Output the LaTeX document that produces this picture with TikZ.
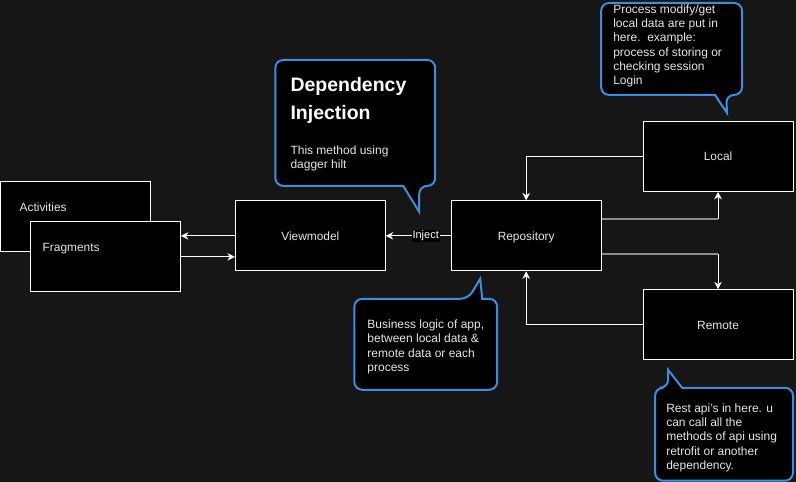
\documentclass[tikz,border=0pt]{standalone}
\usepackage{fontspec}
\setmainfont{Liberation Sans}
\usetikzlibrary{arrows.meta}
\definecolor{bg}{HTML}{161616}
\definecolor{cblue}{HTML}{3A8EE0}
\definecolor{lgray}{HTML}{8C8C8C}
\definecolor{txt}{HTML}{E6E6E6}
\begin{document}
\begin{tikzpicture}[x=1pt,y=-1pt,
  box/.style={draw=white, fill=black, line width=1pt, minimum width=150pt, minimum height=70pt, inner sep=0pt, text=txt, text height=10pt, text depth=1.5pt, font=\fontsize{11.9}{14}\selectfont},
  txtlbl/.style={text=txt, inner sep=0pt, anchor=west, text height=10pt, text depth=1.5pt, font=\fontsize{11.9}{14}\selectfont},
  arr/.style={draw=white, line width=1pt, -{Stealth[length=7.5pt,width=7.5pt]}},
  glines/.style={draw=lgray, line width=1.5pt},
  callout/.style={draw=cblue, fill=black, line width=2pt, rounded corners=8pt},
  ctext/.style={text=txt, inner sep=0pt, anchor=north west, align=left, font=\fontsize{12}{14.3}\selectfont},
  injlbl/.style={fill=black, text=white, inner sep=1pt, text height=8pt, text depth=2.5pt, font=\fontsize{11}{12}\selectfont},
]
\path[fill=bg] (0,0) rectangle (796,482);

% boxes
\node[box] (act) at (75,217) {};
\node[txtlbl] (actl) at (19,207) {Activities};
\node[box] (frag) at (105,257) {};
\node[txtlbl] (fragl) at (42,247) {Fragments};
\node[box] (vm) at (310,236) {Viewmodel};
\node[box] (repo) at (526,236) {Repository};
\node[box] (local) at (718,156.5) {Local};
\node[box] (remote) at (718,325) {Remote};

% connectors
\draw[arr] (vm.west) -- (vm.west -| frag.east);
\draw[arr] (frag.east) -- (frag.east -| vm.west);
\draw[arr] (repo.west) -- node[injlbl, pos=0.385] {Inject} (vm.east);
\draw[arr] (local.west) -| (repo.north);
\draw[arr] (remote.west) -| (repo.south);

\coordinate (g1s) at ([yshift=17pt]repo.east);
\coordinate (g1e) at (g1s -| local.south);
\draw[glines] (g1s) -- (g1e);
\draw[arr] (g1e) -- (local.south);
\coordinate (g2s) at ([yshift=-18pt]repo.east);
\coordinate (g2e) at (g2s -| remote.north);
\draw[glines] (g2s) -- (g2e);
\draw[arr] (g2e) -- (remote.north);

% callouts
\draw[callout] (355,60) -- (435,60) -- (435,186) -- (419,186) [sharp corners] -- (419,212) -- (403,186) [rounded corners=8pt] -- (275,186) -- (275,60) -- cycle;
\node[ctext, font=\fontsize{19.5}{28}\selectfont\bfseries, text=white] (dit) at (290,77.5) {Dependency\\Injection};
\node[ctext] (dib) at (290,145.5) {This method using\\dagger hilt};

\draw[callout] (670,3) -- (742,3) -- (742,95) -- (726,95) [sharp corners] -- (727,113) -- (715,95) [rounded corners=8pt] -- (601,95) -- (601,3) -- cycle;
\node[ctext] (loct) at (613,4.5) {Process modify/get\\local data are put in\\here.\ \ example:\\process of storing or\\checking session\\Login};

\draw[callout] (420,390) -- (354,390) -- (354,299) -- (468,299) [sharp corners] -- (480,279) -- (482,299) [rounded corners=8pt] -- (497,299) -- (497,390) -- cycle;
\node[ctext] (rept) at (367,320) {Business logic of app,\\between local data \&\\remote data or each\\process};

\draw[callout] (720,481) -- (655,481) -- (655,388) -- (668,388) [sharp corners] -- (668,370) -- (682,388) [rounded corners=8pt] -- (793,388) -- (793,481) -- cycle;
\node[ctext] (remt) at (666,403.5) {Rest api's in here. u\\can call all the\\methods of api using\\retrofit or another\\dependency.};
\end{tikzpicture}
\end{document}
